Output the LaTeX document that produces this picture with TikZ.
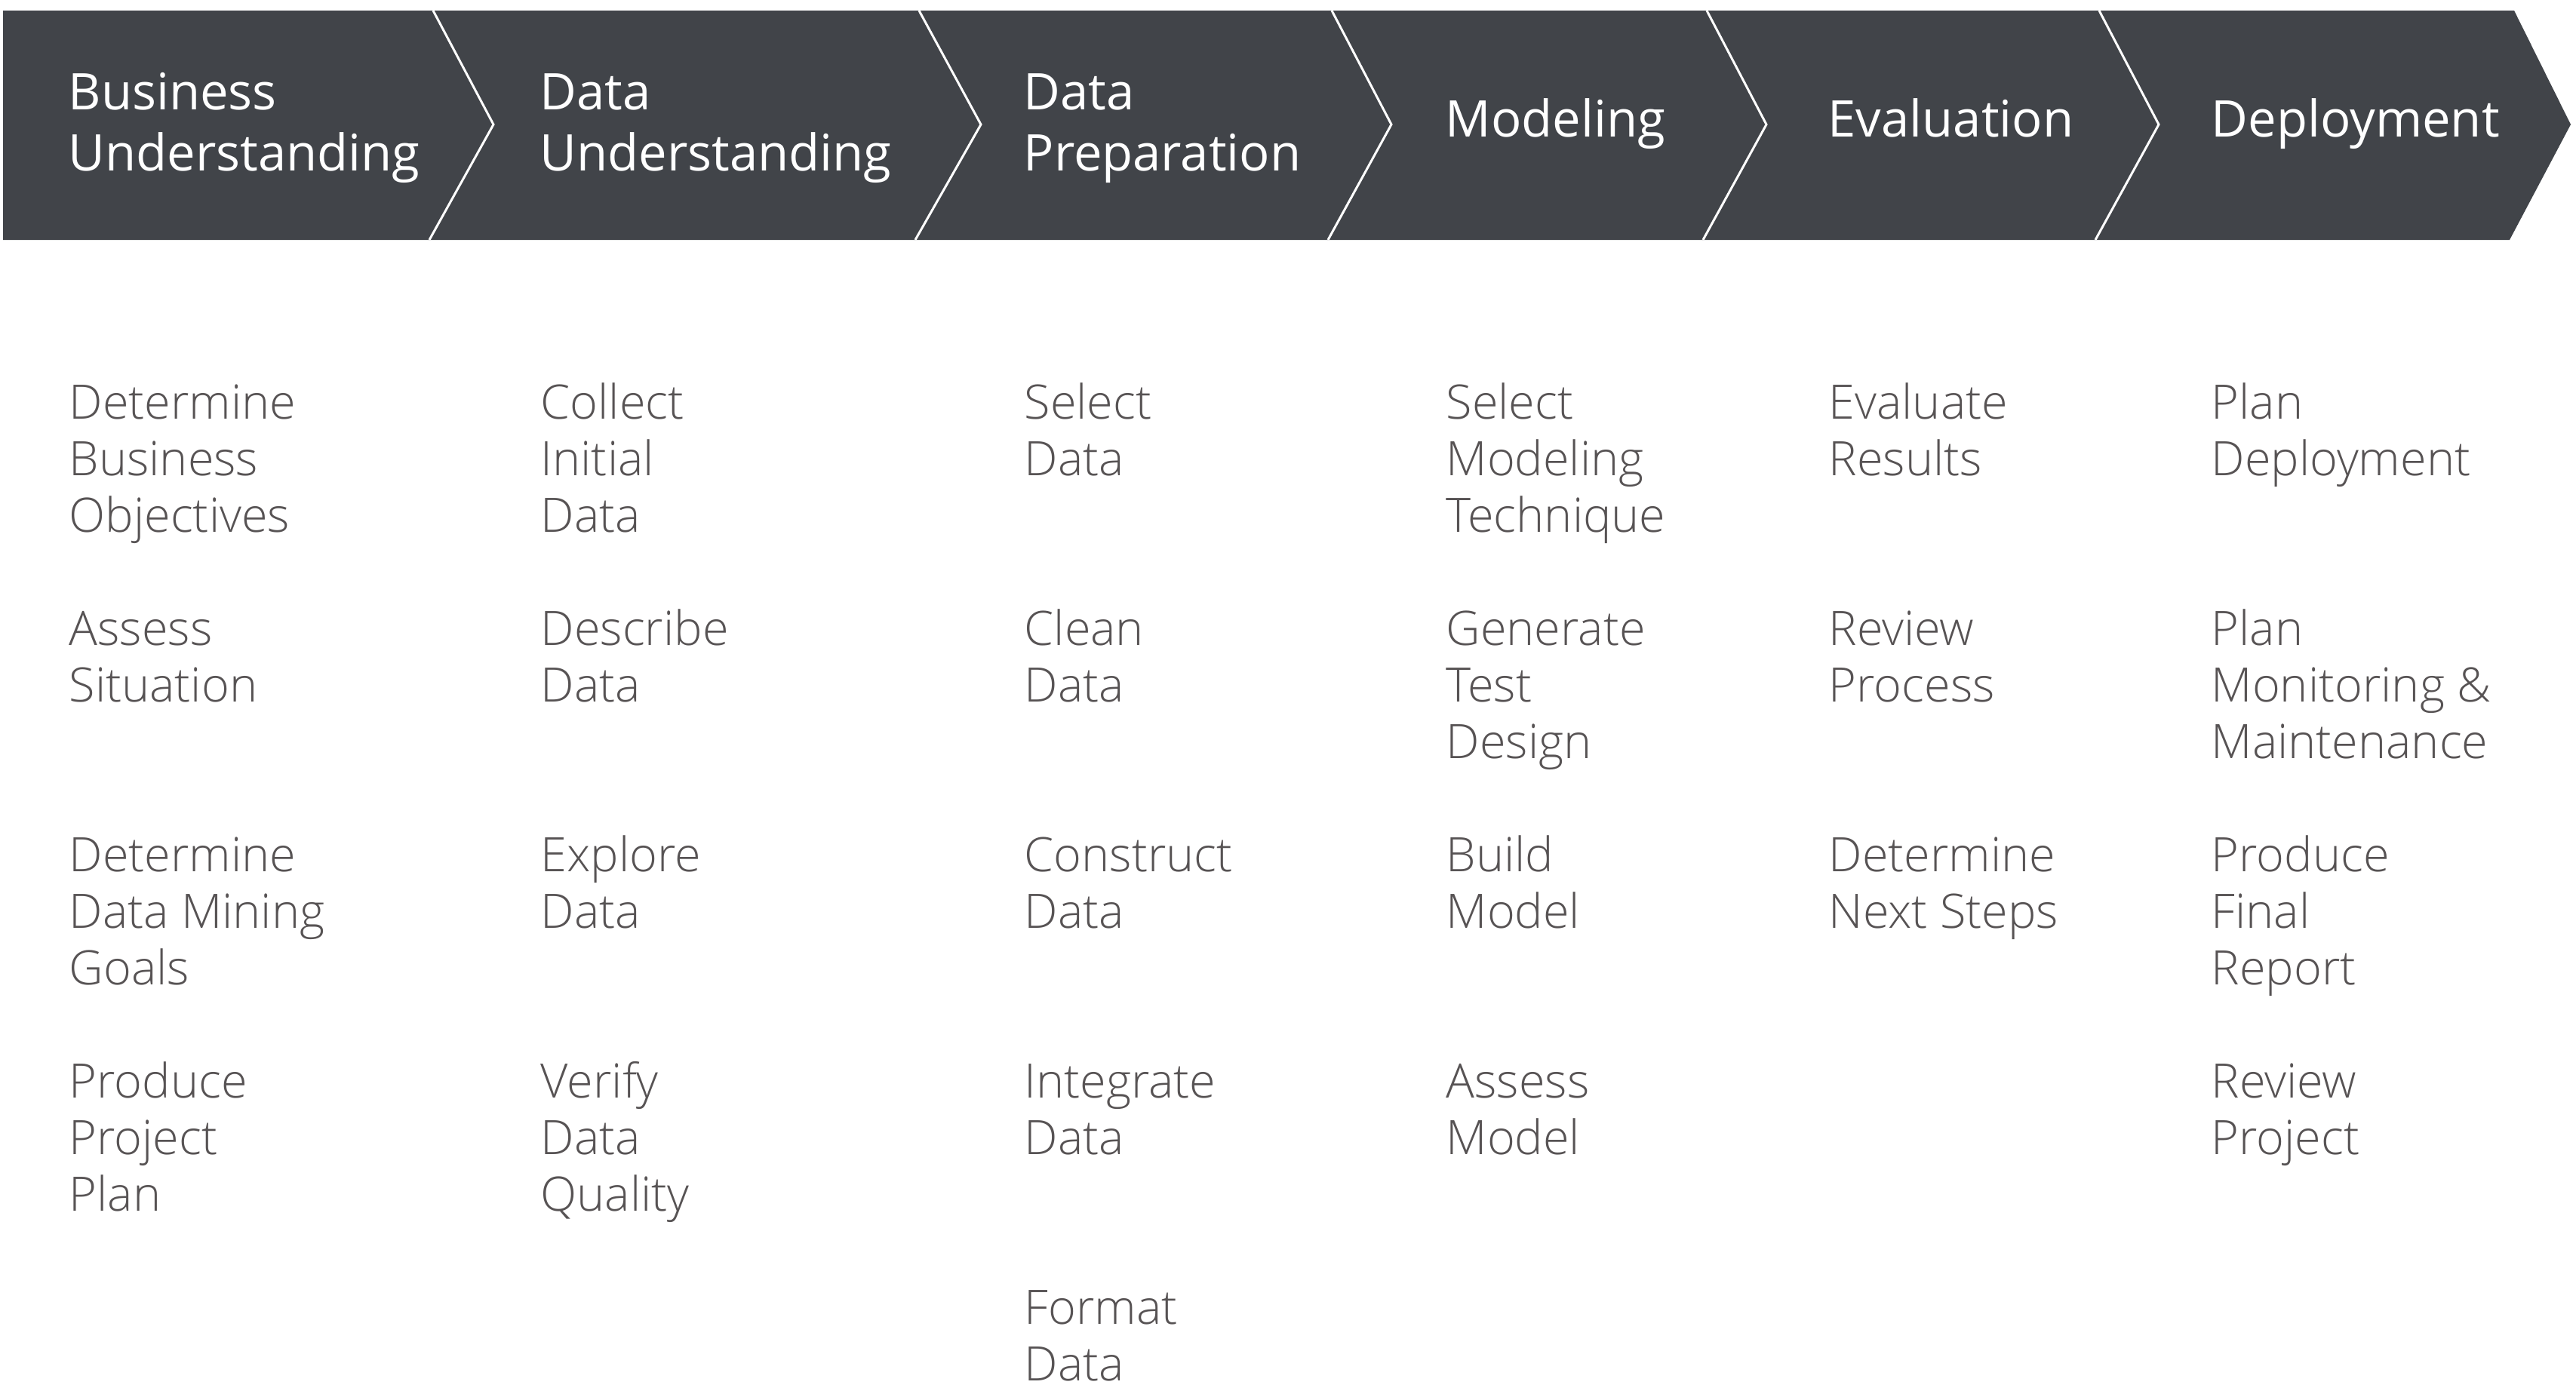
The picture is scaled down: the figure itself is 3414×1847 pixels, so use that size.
\documentclass[tikz,border=0pt]{standalone}
\usepackage{fontspec}
\setmainfont{Open Sans}[UprightFont={* Light}]
\newfontfamily\headfont{Open Sans}
\definecolor{band}{HTML}{414449}
\definecolor{itemgray}{HTML}{575354}
\newcommand\stack[1]{\vtop{\halign{##\hfil\cr#1\crcr}}}
\tikzset{
  head/.style={anchor=base west, inner sep=0pt, text=white,
    font=\headfont\fontsize{19.05}{23.05}\selectfont},
  item/.style={anchor=base west, inner sep=0pt, text=itemgray,
    font=\fontsize{17.9}{21.34}\selectfont},
  sep/.style={draw=white, line width=0.85pt, line join=miter},
}
\begin{document}
\begin{tikzpicture}[x=0.01cm, y=-0.01cm]
\useasboundingbox (0,0) rectangle (3414,1847);
% band
\fill[band] (4,14) -- (3332,14) -- (3407,165) -- (3326,318) -- (4,318) -- cycle;
% separators
\draw[sep] (574,14) -- (654,165) -- (569,318);
\draw[sep] (1218,14) -- (1300,165) -- (1213,318);
\draw[sep] (1765,14) -- (1844,165) -- (1760,318);
\draw[sep] (2262,14) -- (2341,165) -- (2257,318);
\draw[sep] (2782,14) -- (2861,165) -- (2777,318);
% headers
\node[head] (h1) at (90,145) {\stack{Business\cr Understanding}};
\node[head] (h2) at (715,145) {\stack{Data\cr Understanding}};
\node[head] (h3) at (1356,145) {\stack{Data\cr Preparation}};
\node[head] (h4) at (1915,181) {Modeling};
\node[head] (h5) at (2422,181) {Evaluation};
\node[head] (h6) at (2930,181) {Deployment};
% column 1
\node[item] (a1) at (91,555) {\stack{Determine\cr Business\cr Objectives}};
\node[item] (a2) at (91,855) {\stack{Assess\cr Situation}};
\node[item] (a3) at (91,1155) {\stack{Determine\cr Data Mining\cr Goals}};
\node[item] (a4) at (91,1455) {\stack{Produce\cr Project\cr Plan}};
% column 2
\node[item] (b1) at (716,555) {\stack{Collect\cr Initial\cr Data}};
\node[item] (b2) at (716,855) {\stack{Describe\cr Data}};
\node[item] (b3) at (716,1155) {\stack{Explore\cr Data}};
\node[item] (b4) at (716,1455) {\stack{Verify\cr Data\cr Quality}};
% column 3
\node[item] (c1) at (1357,555) {\stack{Select\cr Data}};
\node[item] (c2) at (1357,855) {\stack{Clean\cr Data}};
\node[item] (c3) at (1357,1155) {\stack{Construct\cr Data}};
\node[item] (c4) at (1357,1455) {\stack{Integrate\cr Data}};
\node[item] (c5) at (1357,1755) {\stack{Format\cr Data}};
% column 4
\node[item] (d1) at (1916,555) {\stack{Select\cr Modeling\cr Technique}};
\node[item] (d2) at (1916,855) {\stack{Generate\cr Test\cr Design}};
\node[item] (d3) at (1916,1155) {\stack{Build\cr Model}};
\node[item] (d4) at (1916,1455) {\stack{Assess\cr Model}};
% column 5
\node[item] (e1) at (2423,555) {\stack{Evaluate\cr Results}};
\node[item] (e2) at (2423,855) {\stack{Review\cr Process}};
\node[item] (e3) at (2423,1155) {\stack{Determine\cr Next Steps}};
% column 6
\node[item] (f1) at (2930,555) {\stack{Plan\cr Deployment}};
\node[item] (f2) at (2930,855) {\stack{Plan\cr Monitoring \&\cr Maintenance}};
\node[item] (f3) at (2930,1155) {\stack{Produce\cr Final\cr Report}};
\node[item] (f4) at (2930,1455) {\stack{Review\cr Project}};
\end{tikzpicture}
\end{document}
